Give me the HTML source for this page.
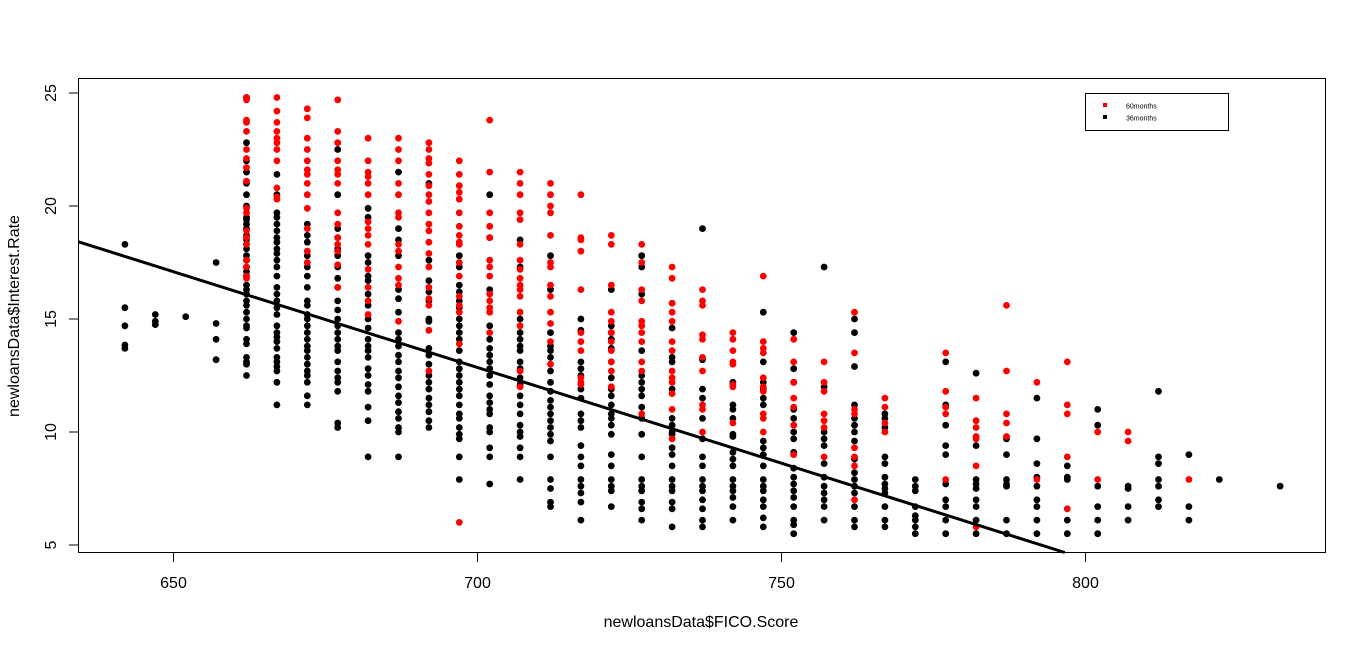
<!DOCTYPE html>
<html><head><meta charset="utf-8"><title>Interest rate vs FICO</title>
<style>
html,body{margin:0;padding:0;background:#fff;}
svg{display:block;font-family:"Liberation Sans",Arial,sans-serif;}
</style></head>
<body>
<svg id="chart" width="1366" height="650" viewBox="0 0 1366 650" xmlns="http://www.w3.org/2000/svg">
<rect x="0" y="0" width="1366" height="650" fill="#fff"/>
<g id="points"></g>
<line id="fit" stroke="#000" stroke-width="3"/>
<rect x="78.5" y="78.5" width="1247" height="474" fill="none" stroke="#000" stroke-width="1"/>
<g id="xaxis"></g>
<g id="yaxis"></g>
<text x="701" y="627" font-size="16" text-anchor="middle" fill="#000">newloansData$FICO.Score</text>
<text transform="translate(19,316) rotate(-90)" font-size="16" text-anchor="middle" fill="#000">newloansData$Interest.Rate</text>
<g>
<rect x="1085.5" y="93.5" width="143" height="37" fill="#fff" stroke="#000" stroke-width="1"/>
<rect x="1103" y="103" width="4" height="4" fill="#ff0000"/>
<text x="1126" y="108.5" font-size="7" fill="#000">60months</text>
<rect x="1103" y="115" width="4" height="4" fill="#000"/>
<text x="1126" y="120.5" font-size="7" fill="#000">36months</text>
</g>
</svg>
<script>
const ficoCols = [642,647,652,657,662,667,672,677,682,687,692,697,702,707,712,717,722,727,732,737,742,747,752,757,762,767,772,777,782,787,792,797,802,807,812,817,822,832];
const rates36 = [
[18.3,15.5,14.7,13.85,13.7],
[15.2,14.9,14.75],
[15.1],
[17.5,14.8,14.1,13.2],
[24.8,22.8,22.0,21.5,21.0,20.5,20.0,19.5,19.4,19.2,19.0,18.7,18.5,18.3,18.1,17.8,17.6,17.3,17.1,16.9,16.5,16.3,16.1,15.8,15.6,15.3,15.0,14.7,14.6,14.1,13.9,13.3,13.1,13.0,12.5],
[21.4,20.5,19.7,19.5,19.2,18.9,18.6,18.4,18.1,17.9,17.6,17.3,16.9,16.4,16.1,15.8,15.5,15.2,14.7,14.4,14.2,14.0,13.7,13.3,13.1,12.9,12.7,12.2,11.2],
[19.2,18.7,18.4,17.8,17.3,16.9,16.4,15.8,15.6,15.2,15.0,14.7,14.4,14.1,13.8,13.6,13.3,13.0,12.7,12.5,12.2,11.6,11.2],
[22.5,20.5,19.0,18.6,18.1,17.8,17.3,16.8,16.4,15.8,15.4,15.0,14.7,14.4,14.1,13.8,13.6,13.1,12.7,12.4,12.2,11.8,10.4,10.2],
[19.9,19.5,17.8,17.5,16.9,16.7,16.1,15.6,15.0,14.6,14.1,13.8,13.6,13.3,12.8,12.5,12.1,11.8,11.1,10.5,8.9],
[21.5,19.0,18.5,17.8,16.3,15.9,15.3,14.4,14.1,13.8,13.4,13.1,12.7,12.4,12.0,11.6,11.3,10.9,10.6,10.2,10.0,8.9],
[21.0,17.6,16.7,16.2,15.8,15.0,14.9,13.7,13.4,13.0,12.5,12.2,11.9,11.5,11.2,10.9,10.5,10.2],
[17.8,17.3,16.5,16.2,15.8,15.5,15.0,14.7,14.4,14.1,13.6,13.1,12.8,12.5,12.2,11.9,11.6,11.2,10.8,10.6,10.2,9.9,9.7,8.9,7.9],
[20.5,18.6,16.3,14.7,14.1,13.7,13.4,13.1,12.8,12.5,12.1,11.6,11.3,11.0,10.8,10.2,10.0,9.3,8.9,7.7],
[18.5,17.3,15.0,14.4,14.1,13.8,13.6,13.1,12.8,12.4,12.1,11.6,11.2,10.8,10.3,10.0,9.8,9.3,8.9,7.9],
[17.8,16.3,14.4,13.8,13.6,13.3,12.7,12.2,11.8,11.4,11.1,10.8,10.5,10.2,9.9,9.6,8.9,7.9,7.5,6.9,6.7],
[15.0,14.5,13.1,12.8,12.5,11.9,11.5,10.8,10.5,10.2,9.4,8.9,8.5,7.9,7.6,7.3,6.9,6.1],
[16.3,14.7,14.4,14.1,13.7,13.1,12.4,11.9,11.6,11.2,10.8,10.6,10.3,9.9,9.0,8.5,7.9,7.6,7.4,6.7],
[17.8,17.3,16.1,13.6,12.5,12.2,11.9,11.6,11.1,10.6,9.9,8.9,7.9,7.6,7.4,6.9,6.6,6.1],
[14.6,13.3,13.1,11.9,10.6,10.3,10.0,9.9,9.3,9.0,8.5,7.9,7.6,7.4,6.9,6.6,5.8],
[19.0,13.2,11.9,11.5,10.6,9.7,8.9,8.5,7.9,7.6,7.4,7.0,6.6,6.1,5.8],
[12.2,11.2,11.0,10.6,9.9,9.8,9.1,8.8,8.5,7.9,7.6,7.4,7.1,6.7,6.1],
[15.3,13.1,12.2,11.9,11.5,11.2,9.6,9.3,9.0,8.5,7.9,7.6,7.4,7.0,6.7,6.2,5.8],
[14.4,12.8,12.2,11.0,10.6,10.0,9.7,9.1,8.4,8.0,7.7,7.4,7.1,6.7,6.1,5.9,5.5],
[17.3,12.0,10.0,9.7,9.4,8.6,8.0,7.6,7.3,7.0,6.7,6.1],
[15.0,14.4,12.9,11.2,10.6,10.3,10.0,9.6,8.8,8.2,7.9,7.6,7.3,6.7,6.1,5.8],
[10.8,10.6,10.2,8.9,8.6,8.0,7.7,7.5,7.3,6.7,6.1,5.8],
[7.9,7.6,7.4,6.7,6.3,6.1,5.8,5.5],
[13.1,11.2,10.3,9.4,9.0,7.7,7.0,6.7,6.1,5.5],
[12.6,9.4,7.9,7.7,7.5,7.0,6.7,6.1,5.5],
[9.7,9.0,7.9,7.7,7.6,6.1,5.5],
[11.5,9.7,8.6,8.0,7.6,7.0,6.7,6.1,5.5],
[8.5,8.0,7.9,6.1,5.5],
[11.0,10.3,7.6,6.7,6.1,5.5],
[7.6,7.5,6.7,6.1],
[11.8,8.9,8.6,7.9,7.6,7.0,6.7],
[9.0,6.7,6.1],
[7.9],
[7.6]
];
const rates60 = [
[],[],[],[],
[24.8,24.7,23.8,23.7,23.3,22.5,22.1,21.7,21.1,19.9,19.7,18.9,18.6,18.3,17.6,17.3,16.9,16.8],
[24.8,24.2,23.7,23.3,23.0,22.8,22.5,22.0,20.8,20.4,20.3],
[24.3,23.9,23.0,22.5,22.0,21.6,21.4,21.0,20.5,19.9,19.0,18.0,17.5],
[24.7,23.3,22.8,22.0,21.6,21.4,21.0,19.7,19.2,18.6,18.3,18.0,17.4,16.4],
[23.0,22.0,21.5,21.3,21.0,20.5,19.3,19.0,18.7,18.3,17.2,16.4,15.8,15.2],
[23.0,22.5,22.0,21.0,20.5,19.7,19.5,18.3,18.0,17.3,16.8,16.5,14.9],
[22.8,22.5,22.1,21.9,21.4,20.9,20.5,20.2,19.7,19.2,18.9,18.4,17.9,17.3,16.4,15.9,15.6,14.5,12.7],
[22.0,21.4,20.9,20.6,20.3,19.7,19.1,18.7,18.4,18.3,17.5,16.9,16.0,15.6,15.3,13.9,6.0],
[23.8,21.5,19.7,19.1,18.6,17.6,17.3,16.9,16.1,15.8,15.5,15.3,14.4],
[21.5,21.0,20.5,19.7,19.4,18.3,17.6,17.2,16.8,16.5,16.3,16.0,15.3,14.7,12.7,12.0],
[21.0,20.5,20.0,19.7,18.7,17.5,17.3,16.5,16.0,15.3,14.8,14.0,13.0],
[20.5,18.6,18.5,18.0,16.3,14.4,14.0,13.6,12.4,12.2,12.1],
[18.7,18.3,16.5,15.3,14.9,14.4,14.0,13.6,13.1,12.7,12.0],
[18.3,17.5,16.3,15.8,14.9,14.7,14.4,14.0,13.1,12.7,10.8],
[17.3,16.8,15.7,15.3,14.9,14.0,13.6,12.7,12.4,12.2,11.7,11.0,9.7],
[16.3,15.8,15.6,14.3,14.1,13.3,12.7,11.2,11.0,10.0],
[14.4,14.1,13.6,13.1,13.0,12.1,12.0,10.4],
[16.9,14.0,13.7,13.5,12.4,12.0,11.8,10.8,10.6,10.0],
[14.1,13.1,12.2,11.5,11.1,10.3,9.0],
[13.1,12.2,11.8,10.8,10.5,10.2,8.9],
[15.3,13.5,11.0,10.8,9.3,8.9,8.5,7.0],
[11.5,11.1,10.4,10.0],
[],
[13.5,11.8,11.1,10.8,7.9],
[11.5,10.5,10.2,9.8,9.7,8.5,5.8],
[15.6,12.7,10.8,10.4,9.8],
[12.2,7.9],
[13.1,11.2,10.8,8.9,6.6],
[10.0,7.9],
[10.0,9.6],
[],
[7.9],
[],
[]
];
const xTicks = [650,700,750,800];
const yTicks = [5,10,15,20,25];
const fitIntercept = 72.18;
const fitSlope = -0.08475;

const NS = 'http://www.w3.org/2000/svg';
function xScale(v){ return 173.5 + (v - 650) * 6.08; }
function yScale(v){ return 93 + (25 - v) * 22.6; }

const pts = document.getElementById('points');
function addPoint(fico, rate, color, name){
  const c = document.createElementNS(NS, 'circle');
  c.setAttribute('cx', xScale(fico).toFixed(1));
  c.setAttribute('cy', yScale(rate).toFixed(1));
  c.setAttribute('r', 3.4);
  c.setAttribute('fill', color);
  
  
  pts.appendChild(c);
}
ficoCols.forEach(function(f, i){
  (rates36[i] || []).forEach(function(r){ addPoint(f, r, '#000000', 'point-36months'); });
});
ficoCols.forEach(function(f, i){
  (rates60[i] || []).forEach(function(r){ addPoint(f, r, '#ff0000', 'point-60months'); });
});

const fit = document.getElementById('fit');
const xL = 78.5, yB = 552.5;
const fL = 650 + (xL - 173.5) / 6.08;
const yLpx = yScale(fitIntercept + fitSlope * fL);
const rateBottom = 25 - (yB - 93) / 22.6;
const fBottom = (rateBottom - fitIntercept) / fitSlope;
fit.setAttribute('x1', xL);
fit.setAttribute('y1', yLpx.toFixed(1));
fit.setAttribute('x2', xScale(fBottom).toFixed(1));
fit.setAttribute('y2', yB);

const xa = document.getElementById('xaxis');
xTicks.forEach(function(t){
  const x = xScale(t);
  const l = document.createElementNS(NS, 'line');
  l.setAttribute('x1', x); l.setAttribute('x2', x);
  l.setAttribute('y1', 552.5); l.setAttribute('y2', 562);
  l.setAttribute('stroke', '#000');
  
  
  xa.appendChild(l);
  const tx = document.createElementNS(NS, 'text');
  tx.setAttribute('x', x); tx.setAttribute('y', 588);
  tx.setAttribute('font-size', '16');
  tx.setAttribute('text-anchor', 'middle');
  tx.textContent = t;
  
  
  xa.appendChild(tx);
});
const ya = document.getElementById('yaxis');
yTicks.forEach(function(t){
  const y = yScale(t);
  const l = document.createElementNS(NS, 'line');
  l.setAttribute('x1', 69); l.setAttribute('x2', 78.5);
  l.setAttribute('y1', y); l.setAttribute('y2', y);
  l.setAttribute('stroke', '#000');
  
  
  ya.appendChild(l);
  const tx = document.createElementNS(NS, 'text');
  tx.setAttribute('transform', 'translate(56,' + y + ') rotate(-90)');
  tx.setAttribute('font-size', '16');
  tx.setAttribute('text-anchor', 'middle');
  tx.textContent = t;
  
  
  ya.appendChild(tx);
});
</script>
</body></html>
